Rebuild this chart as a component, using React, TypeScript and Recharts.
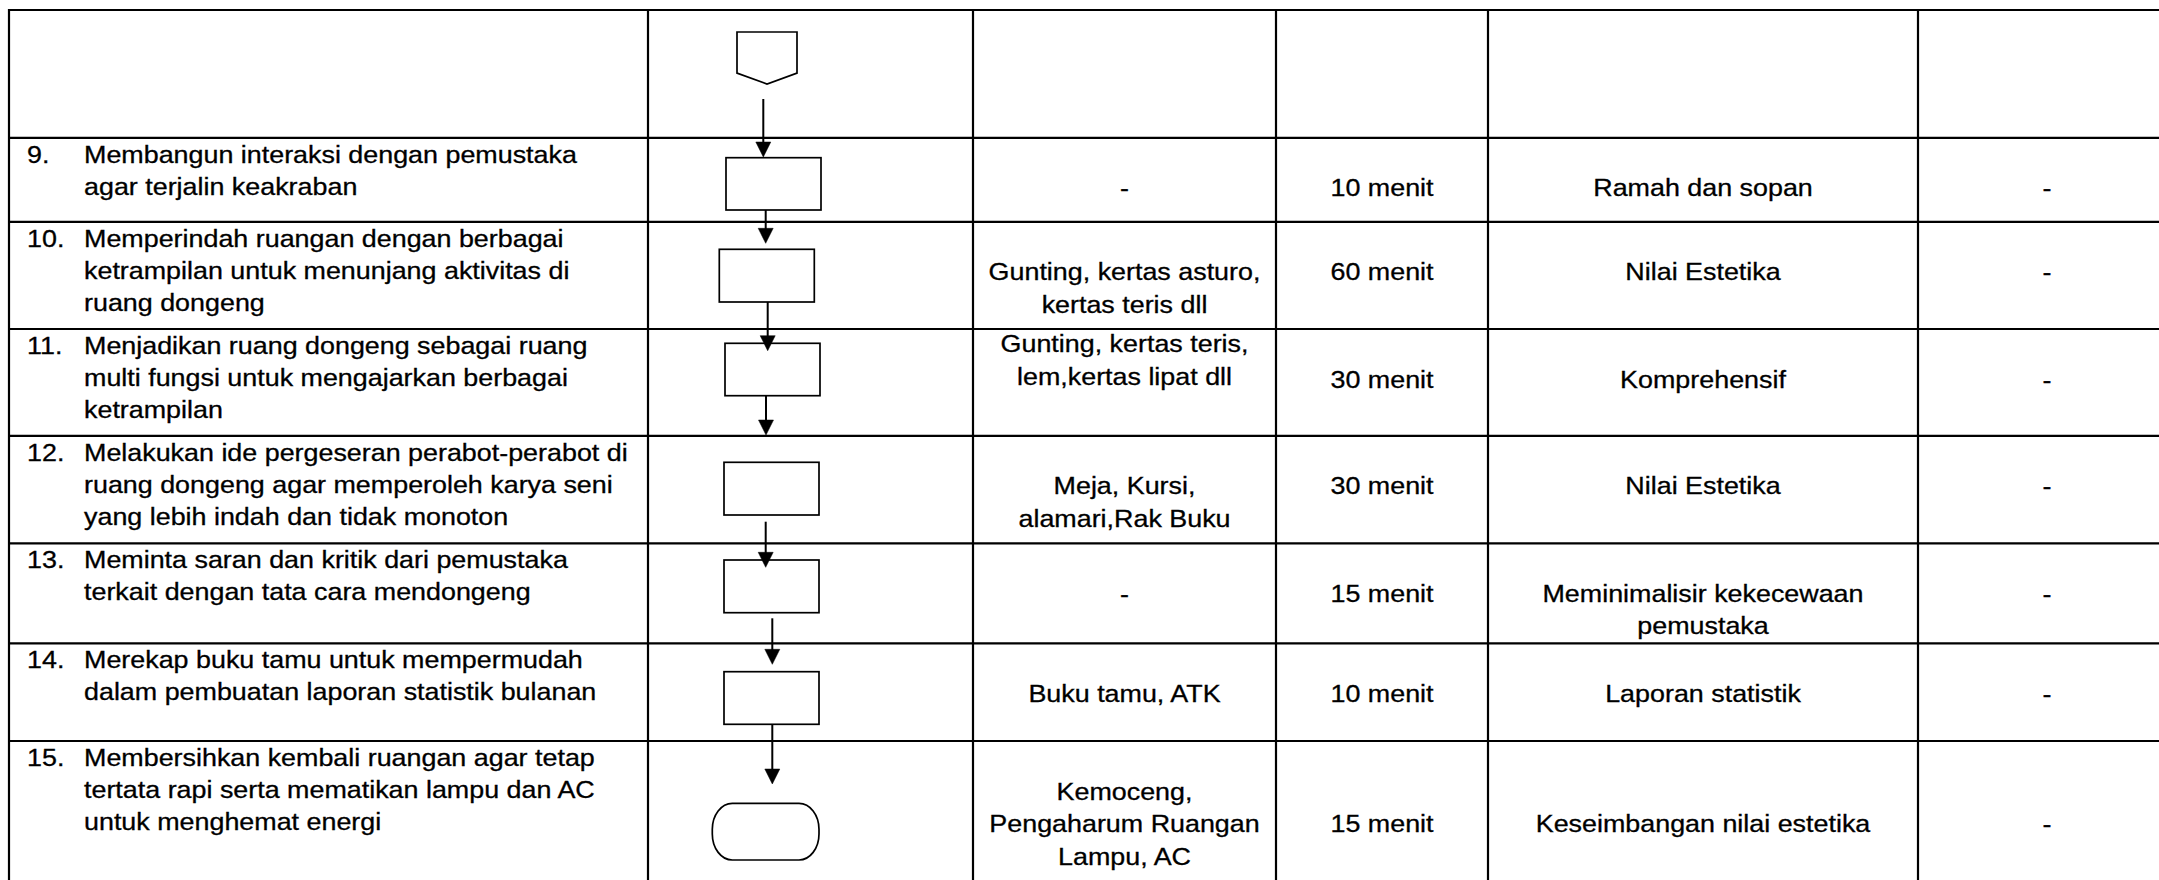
import React from 'react';
import { ComposedChart, XAxis, YAxis, Scatter, ReferenceLine, ReferenceArea } from 'recharts';

// ---------- DATA ----------
const stepNumbers = ['9.', '10.', '11.', '12.', '13.', '14.', '15.'];

const stepTexts: string[][] = [
  ['Membangun interaksi dengan pemustaka', 'agar terjalin keakraban'],
  ['Memperindah ruangan dengan berbagai', 'ketrampilan untuk menunjang aktivitas di', 'ruang dongeng'],
  ['Menjadikan ruang dongeng sebagai ruang', 'multi fungsi untuk mengajarkan berbagai', 'ketrampilan'],
  ['Melakukan ide pergeseran perabot-perabot di', 'ruang dongeng agar memperoleh karya seni', 'yang lebih indah dan tidak monoton'],
  ['Meminta saran dan kritik dari pemustaka', 'terkait dengan tata cara mendongeng'],
  ['Merekap buku tamu untuk mempermudah', 'dalam pembuatan laporan statistik bulanan'],
  ['Membersihkan kembali ruangan agar tetap', 'tertata rapi serta mematikan lampu dan AC', 'untuk menghemat energi'],
];

const tools: string[][] = [
  ['-'],
  ['Gunting, kertas asturo,', 'kertas teris dll'],
  ['Gunting, kertas teris,', 'lem,kertas lipat dll'],
  ['Meja, Kursi,', 'alamari,Rak Buku'],
  ['-'],
  ['Buku tamu, ATK'],
  ['Kemoceng,', 'Pengaharum Ruangan', 'Lampu, AC'],
];

const durations = ['10 menit', '60 menit', '30 menit', '30 menit', '15 menit', '10 menit', '15 menit'];

const outputs: string[][] = [
  ['Ramah dan sopan'],
  ['Nilai Estetika'],
  ['Komprehensif'],
  ['Nilai Estetika'],
  ['Meminimalisir kekecewaan', 'pemustaka'],
  ['Laporan statistik'],
  ['Keseimbangan nilai estetika'],
];

const notes = ['-', '-', '-', '-', '-', '-', '-'];

// ---------- LAYOUT ----------
const W = 2159;
const H = 880;
const TABLE_TOP = 10;
const TABLE_LEFT = 9;
const COL_EDGES = [9, 648, 973, 1276, 1488, 1918];
const COL_CENTERS = [1124.5, 1382, 1703, 2047];
const ROW_TOPS = [137.8, 221.8, 329, 435.8, 543.3, 643.3, 741];
const NUM_X = 27;
const TEXT_X = 84;
const LEFT_FIRST = 25;
const LEFT_LINE = 32;
const RIGHT_FIRST = 58.5;
const RIGHT_LINE = 32.5;
// line shift per row for [tools, duration, output, notes]
const RIGHT_SHIFT = [
  [0, 0, 0, 0],
  [0, 0, 0, 0],
  [-1.08, 0, 0, 0],
  [0, 0, 0, 0],
  [0, 0, 0, 0],
  [0, 0, 0, 0],
  [0, 1, 1, 1],
];

const FLOW_START = { x1: 737, x2: 797, y1: 32, y2: 84 };
const FLOW_BOXES = [
  { x1: 726, x2: 821, y1: 157.7, y2: 210 },
  { x1: 719.3, x2: 814.3, y1: 249.3, y2: 302 },
  { x1: 725, x2: 820, y1: 343.3, y2: 395.7 },
  { x1: 724, x2: 819, y1: 462.3, y2: 515 },
  { x1: 724, x2: 819, y1: 560, y2: 612.7 },
  { x1: 724, x2: 819, y1: 671.7, y2: 724.3 },
];
const FLOW_END = { x1: 712.3, x2: 819, y1: 803.3, y2: 860 };
const FLOW_ARROWS = [
  { x: 763.3, y1: 99, y2: 157 },
  { x: 765.7, y1: 210, y2: 243.3 },
  { x: 767.7, y1: 302, y2: 350.7 },
  { x: 766, y1: 395.7, y2: 435 },
  { x: 765.7, y1: 521.7, y2: 567.3 },
  { x: 772.3, y1: 618.3, y2: 664.3 },
  { x: 772.3, y1: 724.3, y2: 784 },
];

const FONT = "'Liberation Sans', Arial, Helvetica, sans-serif";
const FONT_SIZE = 24;
const STRETCH = 1.12;

// ---------- build text points ----------
type P = { x: number; y: number; t: string };
const leftPoints: P[] = [];
const centerPoints: P[] = [];

stepNumbers.forEach((n, r) => {
  const top = ROW_TOPS[r];
  leftPoints.push({ x: NUM_X, y: top + LEFT_FIRST, t: n });
  stepTexts[r].forEach((line, i) => {
    leftPoints.push({ x: TEXT_X, y: top + LEFT_FIRST + i * LEFT_LINE, t: line });
  });
  const cells: string[][] = [tools[r], [durations[r]], outputs[r], [notes[r]]];
  cells.forEach((lines, c) => {
    lines.forEach((line, i) => {
      centerPoints.push({
        x: COL_CENTERS[c],
        y: top + RIGHT_FIRST + (RIGHT_SHIFT[r][c] + i) * RIGHT_LINE,
        t: line,
      });
    });
  });
});

const textShape = (anchor: 'start' | 'middle') => (p: any) => (
  <text
    x={0}
    y={0}
    transform={`translate(${p.cx},${p.cy}) scale(${STRETCH},1)`}
    textAnchor={anchor}
    fontFamily={FONT}
    fontSize={FONT_SIZE}
    fill="#000"
    stroke="#000"
    strokeWidth={0.3}
  >
    {p.payload.t}
  </text>
);

const arrowShape = (p: any) => {
  const { x1, y1, x2, y2 } = p;
  if (x1 == null) return null;
  const head = 15;
  const half = 7.5;
  return (
    <g>
      <line x1={x1} y1={y1} x2={x2} y2={y2 - head + 2} stroke="#000" strokeWidth={2} />
      <polygon
        points={`${x2 - half},${y2 - head} ${x2 + half},${y2 - head} ${x2},${y2}`}
        fill="#000"
        stroke="#000"
        strokeWidth={0.5}
      />
    </g>
  );
};

const connectorShape = (p: any) => {
  const { x, y, width, height } = p;
  const sh = y + height * 0.79;
  return (
    <path
      d={`M${x},${y} L${x + width},${y} L${x + width},${sh} L${x + width / 2},${y + height} L${x},${sh} Z`}
      fill="none"
      stroke="#000"
      strokeWidth={1.7}
    />
  );
};

const boxShape = (p: any) => (
  <rect x={p.x} y={p.y} width={p.width} height={p.height} fill="none" stroke="#000" strokeWidth={1.7} />
);

const terminatorShape = (p: any) => (
  <rect
    x={p.x}
    y={p.y}
    width={p.width}
    height={p.height}
    rx={20}
    ry={26}
    fill="none"
    stroke="#000"
    strokeWidth={1.7}
  />
);

export default function App() {
  return (
    <div style={{ position: 'absolute', left: 0, top: 0, width: W, height: H, background: '#fff' }}>
      <ComposedChart width={W} height={H} margin={{ top: 0, right: 0, bottom: 0, left: 0 }}>
        <XAxis type="number" dataKey="x" domain={[0, W]} allowDataOverflow hide />
        <YAxis type="number" dataKey="y" domain={[0, H]} allowDataOverflow reversed hide />

        {/* table grid */}
        <ReferenceLine
          segment={[{ x: TABLE_LEFT - 1, y: TABLE_TOP }, { x: W, y: TABLE_TOP }]}
          stroke="#000"
          strokeWidth={2.2}
          ifOverflow="visible"
        />
        {ROW_TOPS.map((y, i) => (
          <ReferenceLine
            key={`h${i}`}
            segment={[{ x: TABLE_LEFT - 1, y }, { x: W, y }]}
            stroke="#000"
            strokeWidth={2.2}
            ifOverflow="visible"
          />
        ))}
        {COL_EDGES.map((x, i) => (
          <ReferenceLine
            key={`v${i}`}
            segment={[{ x, y: TABLE_TOP - 1 }, { x, y: H }]}
            stroke="#000"
            strokeWidth={2.2}
            ifOverflow="visible"
          />
        ))}

        {/* flowchart symbols */}
        <ReferenceArea {...FLOW_START} shape={connectorShape} ifOverflow="visible" />
        {FLOW_BOXES.map((b, i) => (
          <ReferenceArea key={`b${i}`} {...b} shape={boxShape} ifOverflow="visible" />
        ))}
        <ReferenceArea {...FLOW_END} shape={terminatorShape} ifOverflow="visible" />
        {FLOW_ARROWS.map((a, i) => (
          <ReferenceLine
            key={`a${i}`}
            segment={[{ x: a.x, y: a.y1 }, { x: a.x, y: a.y2 }]}
            shape={arrowShape}
            ifOverflow="visible"
          />
        ))}

        {/* texts */}
        <Scatter data={leftPoints} shape={textShape('start')} isAnimationActive={false} />
        <Scatter data={centerPoints} shape={textShape('middle')} isAnimationActive={false} />
      </ComposedChart>
    </div>
  );
}
